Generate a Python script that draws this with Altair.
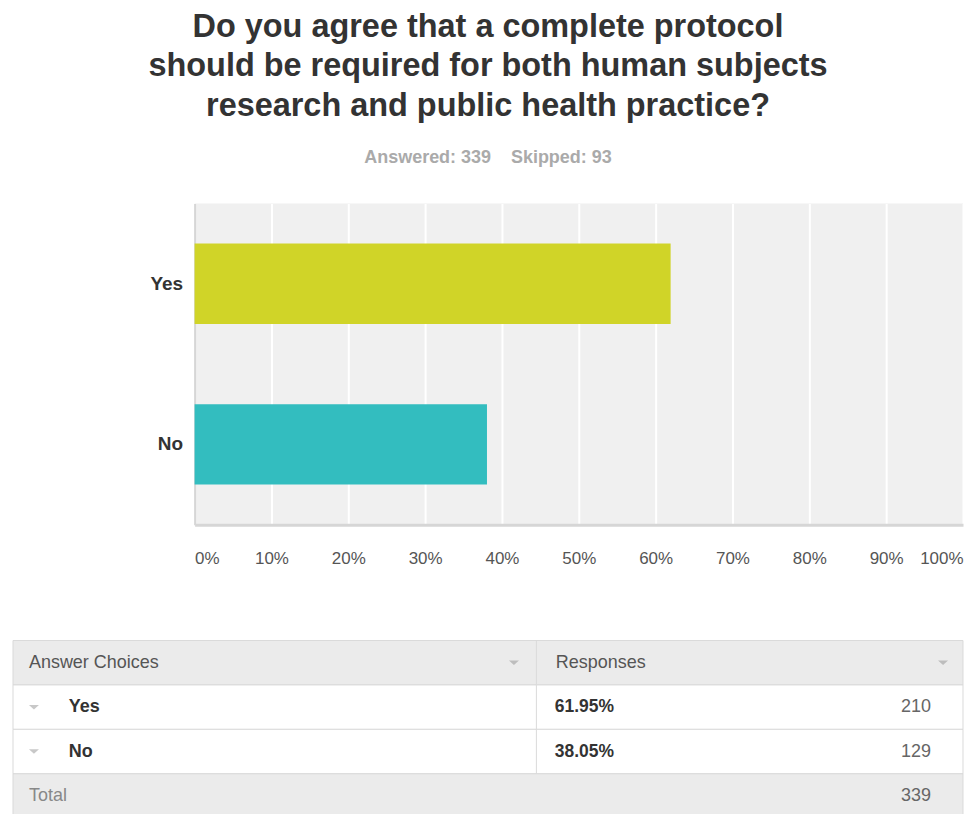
import altair as alt
import pandas as pd

# ---------------- data ----------------
title_lines = [
    "Do you agree that a complete protocol",
    "should be required for both human subjects",
    "research and public health practice?",
]
answered = 339
skipped = 93
choices = ["Yes", "No"]
percents = [61.95, 38.05]
counts = [210, 129]
bar_colors = ["#d0d428", "#33bdbf"]
x_ticks = [0, 10, 20, 30, 40, 50, 60, 70, 80, 90, 100]
header_labels = ["Answer Choices", "Responses"]
total_label = "Total"

FONT = "Liberation Sans"
PLOT_W = 770
LEFT = 182  # table extends this far left of the plot origin

# ---------------- bar chart ----------------
bars_df = pd.DataFrame({"choice": choices, "pct": [p / 100 for p in percents]})

bar = alt.Chart(bars_df).mark_bar().encode(
    x=alt.X(
        "pct:Q",
        scale=alt.Scale(domain=[0, 1], nice=False),
        axis=alt.Axis(
            values=[t / 100 for t in x_ticks],
            format=".0%",
            title=None,
            labelFlush=True,
            labelFontSize=17,
            labelColor="#555555",
            labelPadding=26,
            ticks=False,
            grid=True,
            gridColor="#ffffff",
            gridWidth=2,
            domainColor="#d6d6d6",
            domainWidth=3,
        ),
    ),
    y=alt.Y(
        "choice:N",
        sort=choices,
        scale=alt.Scale(paddingInner=0.5, paddingOuter=0.25),
        axis=alt.Axis(
            title=None,
            labelFontSize=19,
            labelFontWeight="bold",
            labelColor="#333333",
            labelPadding=12,
            ticks=False,
            grid=False,
            domainColor="#d6d6d6",
            domainWidth=2,
            minExtent=LEFT,
        ),
    ),
    color=alt.Color("choice:N", scale=alt.Scale(domain=choices, range=bar_colors), legend=None),
).properties(width=PLOT_W, height=322, view=alt.ViewBackground(fill="#f0f0f0", stroke=None))

# ---------------- table ----------------
rows_order = ["header", "Yes", "No", "total"]
table_df = pd.DataFrame({
    "row": rows_order,
    "bg": ["gray", "white", "white", "gray"],
    "left_text": [header_labels[0], "", "", total_label],
    "choice_text": ["", choices[0], choices[1], ""],
    "resp_head": [header_labels[1], "", "", ""],
    "pct_text": ["", f"{percents[0]:.2f}%", f"{percents[1]:.2f}%", ""],
    "count_text": ["", str(counts[0]), str(counts[1]), str(answered)],
    "is_total": [False, False, False, True],
})

SPLIT = 342
TFS = 18
ybase = alt.Y("row:N", sort=rows_order, axis=None, scale=alt.Scale(paddingInner=0, paddingOuter=0))
base = alt.Chart(table_df)

cells = base.mark_rect(stroke="#dadada", strokeWidth=1).encode(
    y=ybase,
    x=alt.value(-LEFT),
    x2=alt.value(PLOT_W),
    fill=alt.Fill("bg:N", scale=alt.Scale(domain=["gray", "white"], range=["#ebebeb", "#ffffff"]), legend=None),
)
sep = base.transform_filter("!datum.is_total").mark_rect(color="#dadada").encode(
    y=ybase, x=alt.value(SPLIT), x2=alt.value(SPLIT + 1)
)
left_txt = base.mark_text(align="left", fontSize=TFS).encode(
    y=ybase, x=alt.value(-166), text="left_text:N",
    color=alt.condition("datum.is_total", alt.value("#888888"), alt.value("#555555")),
)
choice_txt = base.mark_text(align="left", fontSize=TFS, fontWeight="bold", color="#333333").encode(
    y=ybase, x=alt.value(-126), text="choice_text:N"
)
resp_txt = base.mark_text(align="left", fontSize=TFS, color="#555555").encode(
    y=ybase, x=alt.value(362), text="resp_head:N"
)
pct_txt = base.mark_text(align="left", fontSize=17.5, fontWeight="bold", color="#333333").encode(
    y=ybase, x=alt.value(361), text="pct_text:N"
)
count_txt = base.mark_text(align="right", fontSize=TFS, color="#666666").encode(
    y=ybase, x=alt.value(738), text="count_text:N"
)
tri = "M-1,-0.45L1,-0.45L0,0.45Z"
head_arrow1 = base.transform_filter("datum.row == 'header'").mark_point(
    shape=tri, filled=True, size=100, color="#bdbdbd", opacity=1
).encode(y=ybase, x=alt.value(320))
head_arrow2 = base.transform_filter("datum.row == 'header'").mark_point(
    shape=tri, filled=True, size=100, color="#bdbdbd", opacity=1
).encode(y=ybase, x=alt.value(750))
row_arrows = base.transform_filter("datum.choice_text != ''").mark_point(
    shape=tri, filled=True, size=100, color="#c8c8c8", opacity=1
).encode(y=ybase, x=alt.value(-161))

table = alt.layer(
    cells, sep, left_txt, choice_txt, resp_txt, pct_txt, count_txt,
    head_arrow1, head_arrow2, row_arrows
).properties(width=PLOT_W, height=178, view=alt.ViewBackground(fill="#ffffff", stroke=None))

sp = "\u00a0" * 4
chart = alt.vconcat(bar, table, spacing=73).properties(
    title=alt.TitleParams(
        text=title_lines,
        subtitle=f"Answered: {answered}{sp}Skipped: {skipped}",
        anchor="middle",
        fontSize=32.5,
        fontWeight="bold",
        color="#333333",
        lineHeight=39.5,
        subtitleFontSize=18,
        subtitleFontWeight="bold",
        subtitleColor="#aaaaaa",
        subtitlePadding=27,
        offset=36.5,
    ),
    padding={"left": 4, "top": 2, "right": 0, "bottom": 0},
).configure(font=FONT, background="#ffffff")

chart.save("out.html", embed_options={"renderer": "svg", "actions": False})
